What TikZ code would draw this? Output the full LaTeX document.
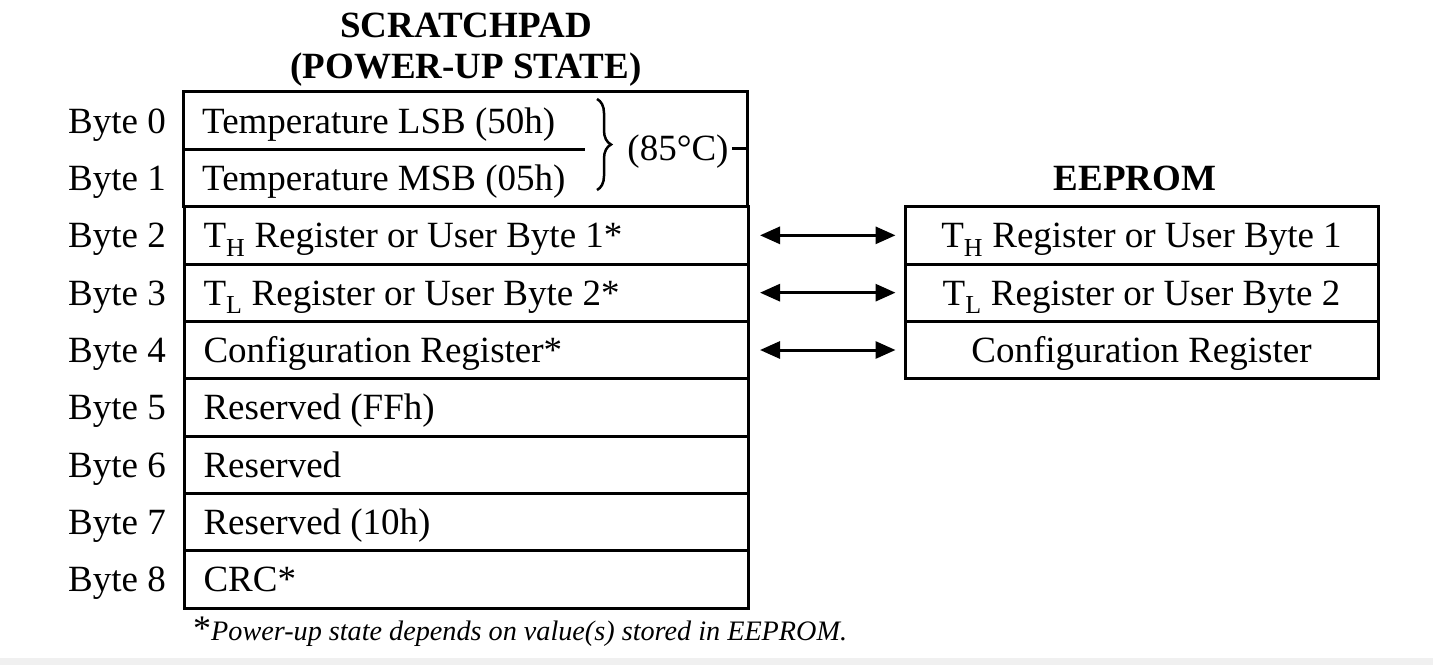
\documentclass[tikz,border=0pt]{standalone}
\usepackage{fontspec}
\setmainfont{Liberation Serif}
\usetikzlibrary{arrows.meta,decorations.pathreplacing}
\newcommand{\celltext}[1]{\makebox[526pt][l]{#1}}
\begin{document}
\begin{tikzpicture}[x=1pt,y=-1pt,
  font=\fontsize{37}{44}\selectfont,
  txt/.style={text height=32pt,text depth=7pt},
  cell/.style={draw,line width=3pt,txt,minimum height=57.33pt,inner xsep=19pt,inner ysep=0pt,anchor=west},
  bare/.style={txt,minimum height=57.33pt,inner xsep=19pt,inner ysep=0pt,anchor=west},
  ecell/.style={draw,line width=3pt,txt,minimum height=57.33pt,minimum width=473pt,inner sep=0pt},
  lab/.style={anchor=east,inner sep=0pt,txt},
  ttl/.style={font=\fontsize{37}{44}\selectfont\bfseries,inner sep=0pt},
  arr/.style={{Triangle[length=20pt,width=17pt]}-{Triangle[length=20pt,width=17pt]},line width=3pt,
    shorten <=10pt,shorten >=8pt}
]
\useasboundingbox (0,0) rectangle (1433,665);
\fill[black!6] (0,658) rectangle (1433,665);

\node[ttl] (t1) at (466,25) {SCRATCHPAD};
\node[ttl] (t2) at (466,70) {(POWER-UP STATE)};
\node[ttl] (t3) at (1135,178) {EEPROM};

% scratchpad rows
\node[bare] (s0) at (183,120.67) {\celltext{Temperature LSB (50h)}};
\node[bare] (s1) at (183,178.0) {\celltext{Temperature MSB (05h)}};
\draw[line width=3pt] (s0.north west) rectangle (s1.south east);
\draw[line width=3pt] (s0.south west) -- ++(402,0);
\node[cell] (s2) at (183,235.33) {\celltext{T\textsubscript{H} Register or User Byte 1*}};
\node[cell] (s3) at (183,292.67) {\celltext{T\textsubscript{L} Register or User Byte 2*}};
\node[cell] (s4) at (183,350.0) {\celltext{Configuration Register*}};
\node[cell] (s5) at (183,407.33) {\celltext{Reserved (FFh)}};
\node[cell] (s6) at (183,464.67) {\celltext{Reserved}};
\node[cell] (s7) at (183,522.0) {\celltext{Reserved (10h)}};
\node[cell] (s8) at (183,579.33) {\celltext{CRC*}};

% byte labels
\foreach \i/\y in {0/120.67,1/178.0,2/235.33,3/292.67,4/350.0,5/407.33,6/464.67,7/522.0,8/579.33}
  \node[lab] (b\i) at (166,\y) {Byte \i};

% brace and 85C
\coordinate (bt) at (597,99);
\coordinate (bb) at (597,190);
\draw[line width=2.5pt,decorate,decoration={brace,amplitude=14pt}] (bt) -- (bb);
\node[inner sep=0pt,txt] (c85) at (678,148) {(85°C)};
\draw[line width=3pt] ([xshift=3pt]c85.east) -- (c85.east -| s1.east);

% eeprom
\node[ecell] (e2) at (1141.5,235.33) {T\textsubscript{H} Register or User Byte 1};
\node[ecell] (e3) at (1141.5,292.67) {T\textsubscript{L} Register or User Byte 2};
\node[ecell] (e4) at (1141.5,350.0) {Configuration Register};

\draw[arr] (s2.east) -- (e2.west);
\draw[arr] (s3.east) -- (e3.west);
\draw[arr] (s4.east) -- (e4.west);

% footnote
\node[anchor=west,inner sep=0pt,font=\fontsize{28.2}{34}\selectfont] (fn) at (193,632)
  {{\fontsize{36}{40}\selectfont *}\textit{Power-up state depends on value(s) stored in EEPROM.}};
\end{tikzpicture}
\end{document}
